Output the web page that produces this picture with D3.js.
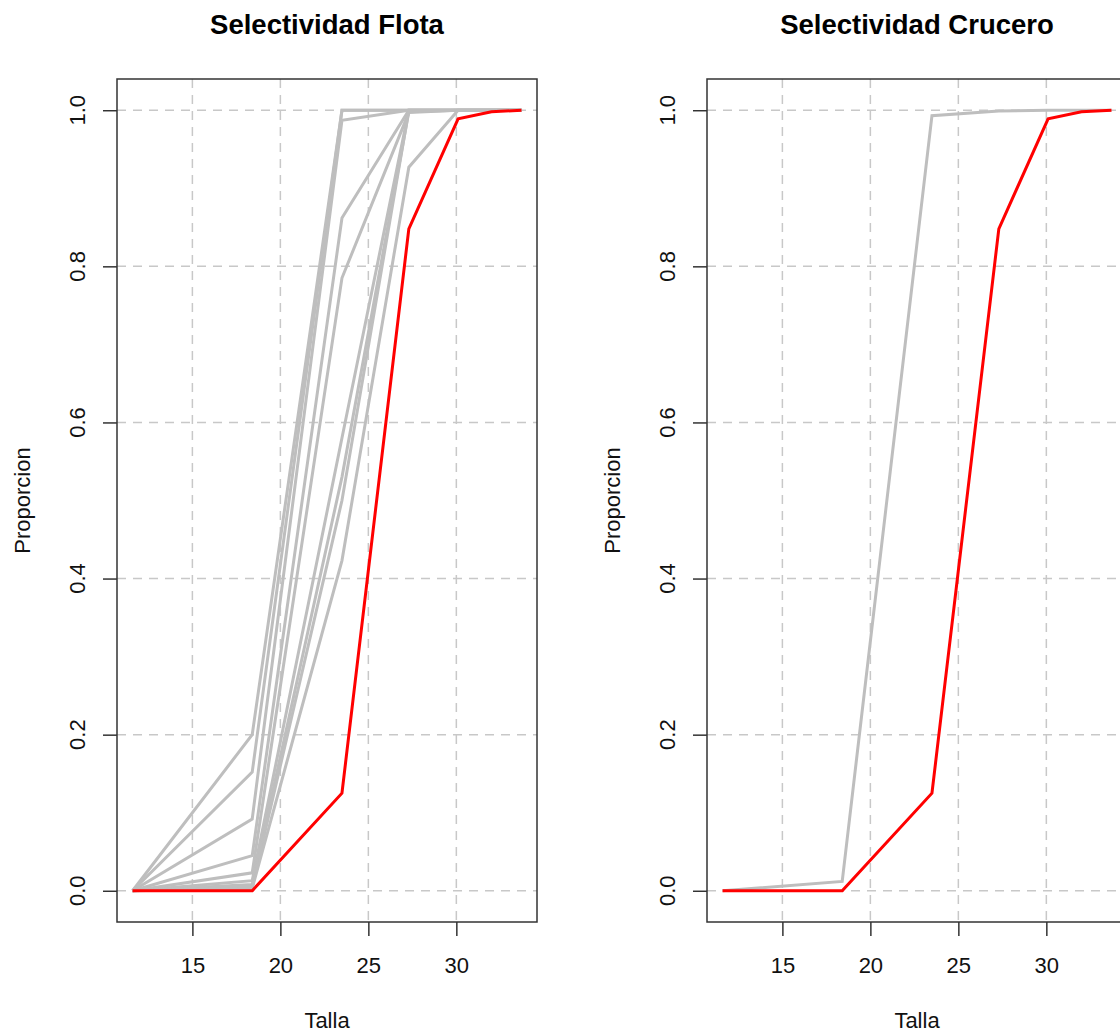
<!DOCTYPE html>
<html>
<head>
<meta charset="utf-8">
<script src="https://cdn.jsdelivr.net/npm/d3@7"></script>
<style>
  body { margin: 0; background: #fff; }
  svg { display: block; font-family: "Liberation Sans", Arial, sans-serif; }
</style>
</head>
<body>
<svg id="chart" width="1120" height="1036"></svg>
<script>
// talla (length) points shared by every curve
const talla = [11.6, 18.4, 23.5, 27.3, 30.1, 32.0, 33.7]

// fleet selectivity curves (grey)
const flotaGris = [
    [0, 0.200, 1.000, 1.000, 1, 1, 1],
    [0, 0.152, 1.000, 1.000, 1, 1, 1],
    [0, 0.092, 0.987, 1.000, 1, 1, 1],
    [0, 0.045, 0.862, 1.000, 1, 1, 1],
    [0, 0.023, 0.785, 0.997, 1, 1, 1],
    [0, 0.013, 0.580, 1.000, 1, 1, 1],
    [0, 0.008, 0.530, 0.998, 1, 1, 1],
    [0, 0.005, 0.500, 1.000, 1, 1, 1],
    [0, 0.003, 0.423, 0.927, 1, 1, 1]
]
const flotaRoja = [0, 0, 0.125, 0.848, 0.989, 0.998, 1.0]

// survey selectivity
const cruceroGris = [
    [0, 0.012, 0.993, 0.999, 1, 1, 1]
]
const cruceroRoja = [0, 0, 0.125, 0.848, 0.989, 0.998, 1.0]

const xTicks = [15, 20, 25, 30]
const yTicks = [0, 0.2, 0.4, 0.6, 0.8, 1.0]
const titulos = ["Selectividad Flota", "Selectividad Crucero"]

const svg = d3.select("#chart")

const pw = 420, pTop = 79, pBottom = 922
const lefts = [117, 707]

// R style 4% padding on the data range
const ext = d3.extent(talla)
const padX = (ext[1] - ext[0]) * 0.04
const x0 = d3.scaleLinear().domain([ext[0] - padX, ext[1] + padX]).range([0, pw])
const y = d3.scaleLinear().domain([-0.04, 1.04]).range([pBottom, pTop])

function panel(left, titulo, grises, roja) {
    const g = svg.append("g").attr("transform", "translate(" + left + ",0)")

    // grid
    g.selectAll(".gx").data(xTicks).enter().append("line")
        .attr("x1", d => x0(d)).attr("x2", d => x0(d))
        .attr("y1", pTop).attr("y2", pBottom)
        .attr("stroke", "#c8c8c8").attr("stroke-width", 1.5)
        .attr("stroke-dasharray", "9,7")
    g.selectAll(".gy").data(yTicks).enter().append("line")
        .attr("x1", 0).attr("x2", pw)
        .attr("y1", d => y(d)).attr("y2", d => y(d))
        .attr("stroke", "#c8c8c8").attr("stroke-width", 1.5)
        .attr("stroke-dasharray", "9,7")

    const line = d3.line()
        .x((d, i) => x0(talla[i]))
        .y(d => y(d))

    grises.forEach(s => {
        g.append("path")
            .attr("d", line(s))
            .attr("fill", "none")
            .attr("stroke", "#bebebe")
            .attr("stroke-width", 3)
    })
    g.append("path")
        .attr("d", line(roja))
        .attr("fill", "none")
        .attr("stroke", "#ff0000")
        .attr("stroke-width", 3)

    // box
    g.append("rect")
        .attr("x", 0).attr("y", pTop)
        .attr("width", pw).attr("height", pBottom - pTop)
        .attr("fill", "none").attr("stroke", "#333").attr("stroke-width", 1.5)

    // x axis
    const ax = g.append("g")
        .attr("transform", "translate(0," + pBottom + ")")
        .call(d3.axisBottom(x0).tickValues(xTicks).tickSize(14).tickPadding(21).tickFormat(d3.format("d")))
    ax.select(".domain").remove()
    ax.selectAll("line").attr("stroke", "#333").attr("stroke-width", 1.5)
    ax.selectAll("text").attr("font-size", 22).attr("fill", "#111")
        .attr("font-family", "'Liberation Sans', Arial, sans-serif")

    // y axis
    const ay = g.append("g")
        .call(d3.axisLeft(y).tickValues(yTicks).tickSize(14).tickFormat(""))
    ay.select(".domain").remove()
    ay.selectAll("line").attr("stroke", "#333").attr("stroke-width", 1.5)
    g.selectAll(".ylab").data(yTicks).enter().append("text")
        .attr("transform", d => "translate(-32," + y(d) + ") rotate(-90)")
        .attr("text-anchor", "middle")
        .attr("font-size", 22).attr("fill", "#111")
        .text(d => d3.format(".1f")(d))

    // labels
    g.append("text")
        .attr("x", pw / 2).attr("y", 1028)
        .attr("text-anchor", "middle")
        .attr("font-size", 22).attr("fill", "#111")
        .text("Talla")
    g.append("text")
        .attr("transform", "translate(-87," + ((pTop + pBottom) / 2) + ") rotate(-90)")
        .attr("text-anchor", "middle")
        .attr("font-size", 22).attr("fill", "#111")
        .text("Proporcion")
    g.append("text")
        .attr("x", pw / 2).attr("y", 34)
        .attr("text-anchor", "middle")
        .attr("font-size", 27.5).attr("font-weight", "bold").attr("fill", "#000")
        .text(titulo)
}

panel(lefts[0], titulos[0], flotaGris, flotaRoja)
panel(lefts[1], titulos[1], cruceroGris, cruceroRoja)
</script>
</body>
</html>
